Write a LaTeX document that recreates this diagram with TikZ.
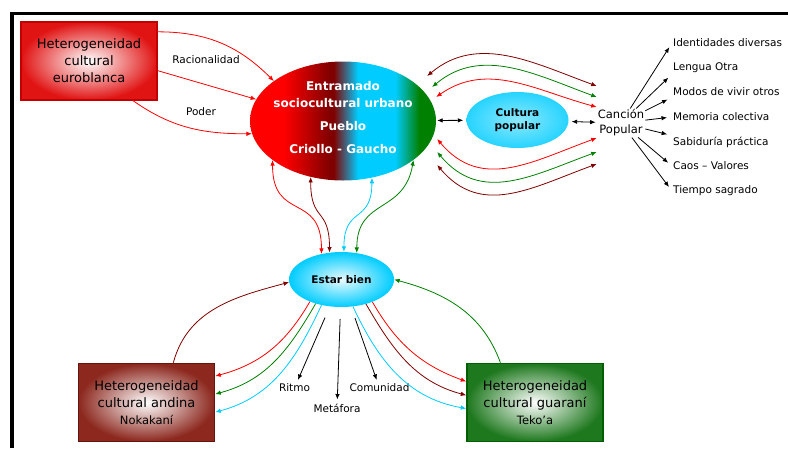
\documentclass[tikz,border=0pt]{standalone}
\usepackage{fontspec}
\setmainfont{DejaVu Sans}
\usetikzlibrary{arrows.meta,calc,shapes.geometric}

\definecolor{myred}{RGB}{255,0,0}
\definecolor{mydred}{RGB}{128,0,0}
\definecolor{mycyan}{RGB}{0,204,255}
\definecolor{mygreen}{RGB}{0,128,0}
\definecolor{euroedge}{RGB}{225,20,20}
\definecolor{euroline}{RGB}{195,0,0}
\definecolor{andedge}{RGB}{140,40,30}
\definecolor{andline}{RGB}{105,20,10}
\definecolor{guaedge}{RGB}{30,120,30}
\definecolor{gualine}{RGB}{0,95,0}

\pgfdeclarehorizontalshading{mainshade}{100bp}{color(0bp)=(myred); color(34bp)=(myred); color(46.5bp)=(mydred); color(47.5bp)=(mydred); color(54bp)=(mycyan); color(64bp)=(mycyan); color(70.5bp)=(mygreen); color(100bp)=(mygreen)}

\tikzset{
  >={Latex[length=5.5pt,width=4.5pt]},
  con/.style={line width=0.8pt},
  redcon/.style={con,draw=myred},
  dredcon/.style={con,draw=mydred},
  cyancon/.style={con,draw=mycyan},
  greencon/.style={con,draw=mygreen},
  blackcon/.style={con,draw=black},
  box/.style={rectangle, minimum width=136pt, minimum height=78pt, line width=1.5pt,
    align=center, inner color=white, font=\fontsize{13}{17}\selectfont},
  bubble/.style={ellipse, inner sep=0pt, align=center, font=\bfseries\fontsize{10.5}{13}\selectfont},
  smalltxt/.style={font=\fontsize{10.5}{12}\selectfont, inner sep=1pt},
  item/.style={smalltxt, anchor=west},
}

\begin{document}
\begin{tikzpicture}[x=1pt,y=1pt]
\useasboundingbox (0,0) rectangle (788,-448);
% draw frame
\draw[line width=3.5pt] (12,-448) -- (12,-13.5) -- (788,-13.5);

% draw boxes
\node[box, draw=euroline, outer color=euroedge] (euro) at (89,-61)
  {\fontsize{13}{19}\selectfont Heterogeneidad\\cultural\\euroblanca};
\node[box, draw=andline, outer color=andedge] (andina) at (146.5,-402.5)
  {Heterogeneidad\\cultural andina\\{\fontsize{11.5}{14}\selectfont Nokakaní}};
\node[box, draw=gualine, outer color=guaedge] (guarani) at (535,-402.5)
  {Heterogeneidad\\cultural guaraní\\{\fontsize{11.5}{14}\selectfont Teko’a}};

% draw ellipses
\node[ellipse, shade, shading=mainshade, minimum width=186pt, minimum height=119pt] (main) at (343,-121) {};
\node[text=white, align=center, font=\bfseries\fontsize{12}{17}\selectfont] (maintext) at (343,-118)
  {Entramado\\sociocultural urbano\\[6pt]Pueblo\\[6pt]Criollo - Gaucho};
\node[bubble, inner color=mycyan!45, outer color=mycyan!85, minimum width=102pt, minimum height=56pt] (cult) at (517.5,-120) {Cultura\\popular};
\node[bubble, inner color=mycyan!8, outer color=mycyan, minimum width=105pt, minimum height=55pt] (estar) at (341.5,-279.5) {Estar bien};

% draw small labels
\node[align=center, inner sep=1pt, font=\fontsize{11.5}{15}\selectfont] (canc) at (621,-123) {Canción\\Popular};
\node[smalltxt] (racio) at (206,-60) {Racionalidad};
\node[smalltxt] (poder) at (201,-112) {Poder};
\node[smalltxt] (ritmo) at (294.5,-388) {Ritmo};
\node[smalltxt] (metaf) at (337,-408) {Metáfora};
\node[smalltxt] (comun) at (379.5,-388) {Comunidad};
\foreach \nm/\yy/\txt in {ident/43/Identidades diversas, lengua/68/Lengua Otra,
    modos/92/Modos de vivir otros, memoria/117/Memoria colectiva,
    sabid/142/Sabiduría práctica, caos/166/Caos – Valores, tiempo/191/Tiempo sagrado}
  \node[item] (\nm) at (672,-\yy) {\txt};

% draw arrows from euroblanca
\draw[redcon,->] (euro.23) to[out=0,in=135] (main.150);
\draw[redcon,->] (euro.352) -- (main.166);
\draw[redcon,->] (euro.318) to[out=-35,in=180] (main.188);

% draw arrows round cultura popular
\draw[blackcon,<->,shorten <=1pt,shorten >=3pt] (main) -- (cult);
\draw[blackcon,<->,shorten <=3pt,shorten >=1pt] (cult) -- (canc);
\draw[dredcon,<->] ($(main.east)+(-9,45)$) to[out=40,in=160] ($(canc.west)+(0,37)$);
\draw[greencon,<->] ($(main.east)+(-4,34)$) to[out=40,in=160] ($(canc.west)+(0,26)$);
\draw[redcon,<->] ($(main.east)+(0,24)$) to[out=35,in=165] ($(canc.west)+(0,16)$);
\draw[redcon,<->] ($(main.east)+(1,-18)$) to[out=-50,in=200,looseness=1.1] ($(canc.west)+(0,-15)$);
\draw[greencon,<->] ($(main.east)+(1,-31)$) to[out=-50,in=200,looseness=1.1] ($(canc.west)+(0,-29)$);
\draw[dredcon,<->] ($(main.east)+(1,-44)$) to[out=-50,in=200,looseness=1.1] ($(canc.west)+(0,-41)$);

% draw arrows from cancion popular
\foreach \nm/\anc in {ident/west, lengua/south west, modos/south west, memoria/west,
    sabid/north west, caos/west, tiempo/west}
  \draw[blackcon,->,shorten >=5pt] (canc) -- (\nm.\anc);

% draw arrows between entramado and estar bien
\draw[redcon,<->] (main.209) to[out=-90,in=90,looseness=1.5] (estar.128);
\draw[dredcon,<->] (main.240) to[out=-90,in=90,looseness=1.5] (estar.114);
\draw[cyancon,<->] (main.297) to[out=-90,in=90,looseness=1.5] (estar.85);
\draw[greencon,<->] (main.331) to[out=-100,in=90,looseness=1.3] (estar.60);

% draw arrows from estar bien
\draw[redcon,->] (estar.215) to[out=240,in=15] (andina.21);
\draw[greencon,->] (estar.223) to[out=240,in=15] (andina.7);
\draw[cyancon,->] (estar.232) to[out=245,in=15] (andina.352);
\draw[dredcon,->] (andina.56) to[out=75,in=195] (estar.183);
\draw[redcon,->] (estar.324) to[out=-60,in=160] (guarani.163);
\draw[dredcon,->] (estar.315) to[out=-60,in=165] (guarani.174);
\draw[cyancon,->] (estar.293) to[out=-65,in=170] (guarani.185);
\draw[greencon,->] (guarani.131) to[out=110,in=-15] (estar.east);
\draw[blackcon,->,shorten <=12pt,shorten >=3pt] (estar) -- (ritmo);
\draw[blackcon,->,shorten <=12pt,shorten >=3pt] (estar) -- (metaf);
\draw[blackcon,->,shorten <=12pt,shorten >=3pt] (estar) -- (comun);
\end{tikzpicture}
\end{document}
